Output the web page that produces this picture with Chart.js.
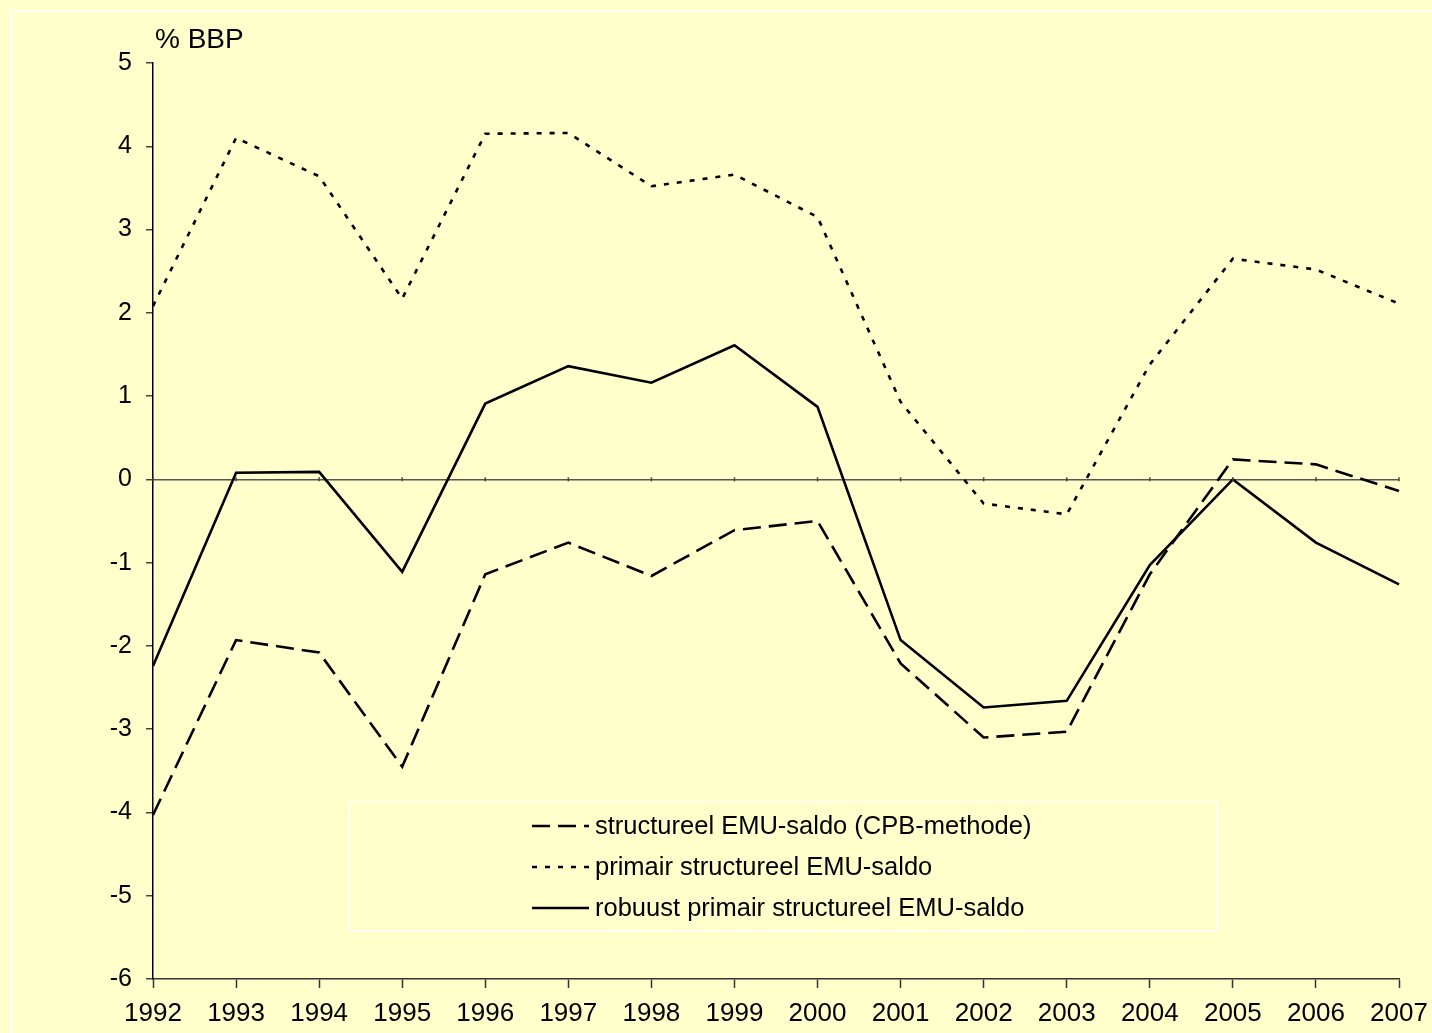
<!DOCTYPE html>
<html>
<head>
<meta charset="utf-8">
<script src="https://cdn.jsdelivr.net/npm/chart.js@4.4.1/dist/chart.umd.min.js"></script>
<style>
  html, body { margin: 0; padding: 0; background: #FFFFCC; }
  canvas { display: block; }
</style>
</head>
<body>
<canvas id="c" width="1432" height="1033"></canvas>
<script>
const years = ['1992','1993','1994','1995','1996','1997','1998','1999','2000','2001','2002','2003','2004','2005','2006','2007'];
const structureel = [-4.03, -1.93, -2.08, -3.45, -1.14, -0.76, -1.16, -0.61, -0.50, -2.21, -3.10, -3.03, -1.14, 0.24, 0.18, -0.14];
const primair = [2.08, 4.10, 3.64, 2.17, 4.15, 4.16, 3.52, 3.66, 3.15, 0.93, -0.29, -0.42, 1.38, 2.65, 2.52, 2.11];
const robuust = [-2.24, 0.08, 0.09, -1.11, 0.91, 1.36, 1.16, 1.61, 0.87, -1.93, -2.74, -2.66, -1.03, 0.00, -0.76, -1.26];
const seriesLabels = ['structureel EMU-saldo (CPB-methode)', 'primair structureel EMU-saldo', 'robuust primair structureel EMU-saldo'];
const yMin = -6, yMax = 5;
const yTitle = '% BBP';

const BG = '#FFFFCC';
const FONT = '"Liberation Sans", Arial, sans-serif';
const dashStyles = [[18, 8], [5, 8], []];

const bgPlugin = {
  id: 'bg',
  beforeDraw(chart) {
    const ctx = chart.ctx;
    ctx.save();
    ctx.fillStyle = BG;
    ctx.fillRect(0, 0, chart.width, chart.height);
    ctx.strokeStyle = '#FFFFF4';
    ctx.lineWidth = 2;
    ctx.beginPath();
    ctx.moveTo(11, chart.height + 5);
    ctx.lineTo(11, 11);
    ctx.lineTo(chart.width + 5, 11);
    ctx.stroke();
    ctx.restore();
  }
};

const extrasPlugin = {
  id: 'extras',
  afterDraw(chart) {
    const ctx = chart.ctx;
    const xs = chart.scales.x, ys = chart.scales.y;
    const ca = chart.chartArea;
    ctx.save();
    const y0 = ys.getPixelForValue(0);
    ctx.strokeStyle = '#444';
    ctx.lineWidth = 1.5;
    years.forEach((_, i) => {
      const px = xs.getPixelForValue(i);
      ctx.beginPath();
      ctx.moveTo(px, y0 - 2);
      ctx.lineTo(px, y0 + 2);
      ctx.stroke();
    });
    ctx.fillStyle = '#000';
    ctx.font = '28px ' + FONT;
    ctx.textAlign = 'left';
    ctx.textBaseline = 'middle';
    ctx.fillText(yTitle, ca.left + 2, ca.top - 23);
    const bx = 349, by = 802, bw = 868, bh = 129;
    ctx.fillStyle = BG;
    ctx.fillRect(bx, by, bw, bh);
    ctx.strokeStyle = '#FFFFF0';
    ctx.lineWidth = 2;
    ctx.strokeRect(bx, by, bw, bh);
    ctx.font = '25.5px ' + FONT;
    chart.data.datasets.forEach((ds, i) => {
      const ry = 826 + i * 41;
      ctx.strokeStyle = '#000';
      ctx.lineWidth = 2.5;
      ctx.setLineDash(ds.borderDash || []);
      ctx.beginPath();
      ctx.moveTo(532, ry);
      ctx.lineTo(589, ry);
      ctx.stroke();
      ctx.setLineDash([]);
      ctx.fillStyle = '#000';
      ctx.textBaseline = 'middle';
      ctx.fillText(ds.label, 595, ry + 1);
    });
    ctx.restore();
  }
};

const datasetsSrc = [structureel, primair, robuust];
new Chart(document.getElementById('c'), {
  type: 'line',
  data: {
    labels: years,
    datasets: datasetsSrc.map((d, i) => ({
      label: seriesLabels[i],
      data: d,
      borderColor: '#000',
      borderWidth: 2.6,
      borderDash: dashStyles[i],
      pointRadius: 0,
      tension: 0,
      fill: false
    }))
  },
  options: {
    responsive: false,
    animation: false,
    devicePixelRatio: 1,
    layout: { padding: { left: 0, top: 63, right: 33, bottom: 0 } },
    plugins: { legend: { display: false }, tooltip: { enabled: false } },
    scales: {
      x: {
        type: 'category',
        offset: false,
        afterFit(s) { s.height = 54; s.paddingLeft = 0; s.paddingRight = 0; },
        border: { display: true, color: '#333', width: 1.5 },
        grid: { drawOnChartArea: false, drawTicks: true, tickLength: 9, tickColor: '#333', tickWidth: 1.5 },
        ticks: { color: '#000', font: { family: FONT, size: 26 }, padding: 10, maxRotation: 0, autoSkip: false }
      },
      y: {
        min: yMin, max: yMax,
        afterFit(s) { s.width = 153; s.paddingTop = 0; s.paddingBottom = 0; },
        border: { display: true, color: '#000', width: 1.5 },
        grid: {
          drawOnChartArea: true,
          color: (c) => (c.tick && c.tick.value === 0 ? '#555' : 'rgba(0,0,0,0)'),
          lineWidth: 1.5,
          drawTicks: true, tickLength: 7, tickColor: '#444', tickWidth: 1.5
        },
        ticks: { stepSize: 1, color: '#000', font: { family: FONT, size: 25 }, padding: 14 }
      }
    }
  },
  plugins: [bgPlugin, extrasPlugin]
});
</script>
</body>
</html>
